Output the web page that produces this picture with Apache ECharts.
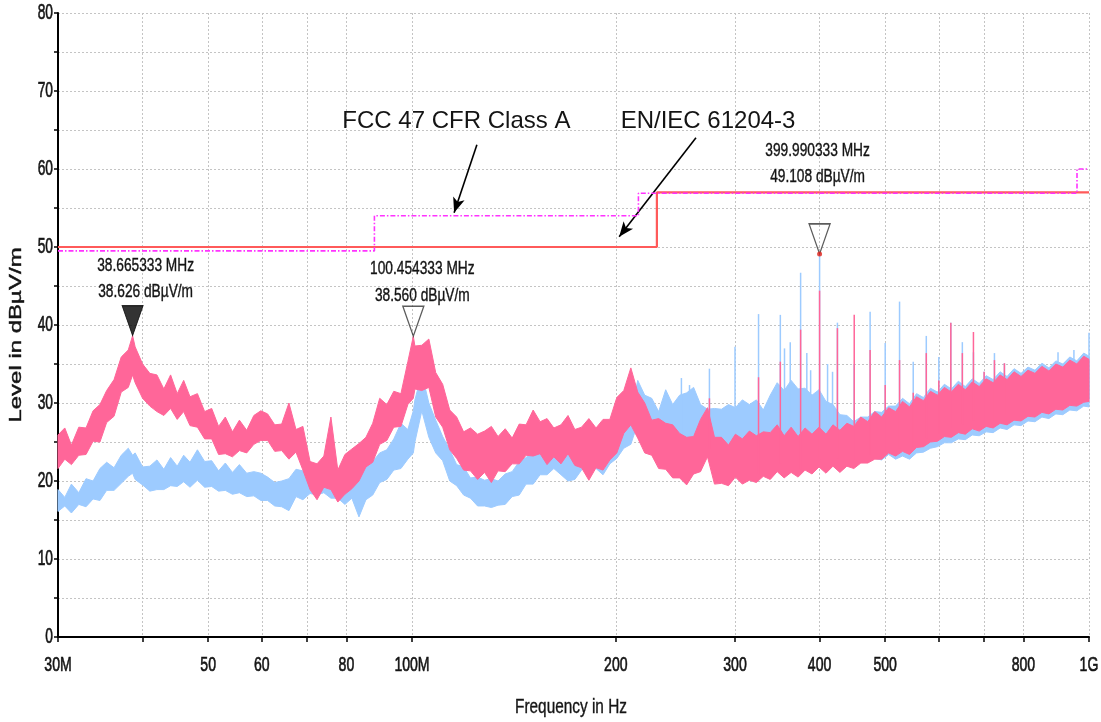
<!DOCTYPE html>
<html>
<head>
<meta charset="utf-8">
<title>Radiated emission scan 30 MHz - 1 GHz</title>
<script src="https://cdn.jsdelivr.net/npm/echarts@6/dist/echarts.min.js"></script>
<style>
  html, body { margin: 0; padding: 0; background: #ffffff; }
  #chart { width: 1101px; height: 722px; }
</style>
</head>
<body>
<div id="chart"></div>
<script>
// Scan frequencies (MHz) shared by both measured traces
const freqMHz = [
  30, 30.7, 31.4, 32.2, 33, 33.8, 34.6, 35.4, 36.3, 37.2, 38.1, 38.665333, 39, 40, 41, 42, 43, 44, 45, 46,
  47, 48.2, 49.4, 50.6, 51.8, 53, 54.3, 55.6, 57, 58.4, 59.8, 61.2, 62.7, 64.2, 65.8, 67.4, 69, 70.7, 72.4, 74.1,
  75.9, 77.7, 79.6, 81.5, 83.5, 85.5, 87.5, 89.6, 91.8, 94, 96.3, 98.6, 100.454333, 101, 103.4, 105.9, 108.4, 111, 113.7, 116.4,
  119.2, 122, 125, 128, 131, 134, 137.3, 140.6, 144, 147.4, 151, 154.6, 158.3, 162, 166, 170, 174, 178, 182.5, 187,
  191.5, 196, 200.7, 205.5, 210.5, 215.5, 220.7, 226, 231.4, 237, 242.7, 248.5, 254.5, 260.6, 266.8, 273.2, 279.8, 286.5, 293.4, 300.4,
  307.6, 315, 322.6, 330.3, 338.2, 346.3, 354.6, 363.1, 371.8, 380.7, 389.8, 399.2, 408.8, 418.6, 428.6, 438.9, 449.4, 460.2, 471.2, 482.5,
  494, 505.9, 518, 530.4, 543.1, 556.2, 569.5, 583.2, 597.2, 611.5, 626.2, 641.2, 656.6, 672.3, 688.4, 704.9, 721.8, 739.1, 756.8, 775,
  793.6, 812.6, 832.1, 852.1, 872.5, 893.4, 914.8, 936.8, 959.3, 982.3, 1000
];

// Peak trace (pink): upper and lower edge of the noise band, dBµV/m
const pinkHi = [
  25.9, 26.8, 24.6, 26.9, 26.8, 29.0, 29.8, 31.6, 33.0, 35.9, 36.8, 38.626, 37.2, 35.0, 33.8, 33.6, 31.8, 33.6, 31.2, 32.9,
  30.8, 31.2, 28.9, 29.3, 27.0, 28.2, 26.3, 27.8, 26.5, 28.4, 29.0, 28.6, 27.2, 27.3, 30.0, 26.6, 27.0, 22.5, 22.2, 23.2,
  28.2, 21.4, 23.4, 24.1, 24.8, 25.6, 27.4, 30.6, 29.8, 31.5, 31.2, 35.3, 38.56, 37.3, 37.4, 38.2, 33.9, 32.4, 29.1, 28.2,
  26.3, 26.8, 26.0, 26.4, 27.0, 25.7, 26.7, 25.5, 27.3, 27.2, 29.1, 27.6, 28.0, 26.8, 27.2, 28.4, 26.6, 26.9, 28.0, 26.8,
  27.9, 27.9, 30.7, 31.6, 34.5, 31.4, 30.0, 27.8, 28.0, 27.4, 27.2, 26.1, 25.6, 25.7, 27.9, 29.4, 25.6, 25.6, 24.6, 26.0,
  25.4, 26.4, 25.8, 26.3, 26.2, 27.2, 25.8, 26.9, 25.7, 26.8, 26.0, 26.9, 26.0, 27.2, 26.5, 27.4, 27.0, 28.2, 27.6, 28.9,
  28.2, 29.4, 28.9, 30.2, 29.5, 30.8, 30.3, 31.5, 31.0, 32.0, 31.4, 32.4, 31.7, 32.7, 32.1, 33.1, 32.6, 33.6, 33.0, 34.0,
  33.4, 34.2, 33.8, 34.7, 34.1, 35.0, 34.6, 35.5, 35.0, 36.0, 35.6
];
const pinkLo = [
  21.6, 22.8, 22.1, 23.3, 23.4, 25.1, 25.0, 27.5, 28.3, 31.4, 32.0, 33.6, 32.6, 30.6, 29.6, 28.9, 28.4, 29.3, 27.9, 28.9,
  27.1, 26.9, 25.4, 25.4, 23.4, 23.5, 23.1, 23.9, 23.6, 24.7, 25.2, 25.2, 23.8, 23.9, 22.8, 23.7, 21.4, 18.9, 17.6, 19.2,
  18.9, 17.3, 18.3, 19.0, 20.0, 21.8, 22.4, 24.7, 25.2, 26.9, 27.0, 29.8, 30.6, 31.8, 31.6, 32.0, 28.2, 26.9, 24.0, 22.9,
  21.4, 21.3, 20.2, 21.1, 19.8, 21.3, 21.2, 22.2, 22.2, 23.3, 23.2, 23.5, 22.1, 23.1, 22.2, 23.5, 22.0, 21.7, 20.1, 21.7,
  21.4, 22.7, 23.6, 26.1, 27.2, 25.5, 23.6, 23.3, 21.6, 21.5, 20.4, 20.4, 19.5, 20.9, 21.2, 23.1, 19.6, 19.7, 19.4, 20.5,
  19.6, 20.1, 19.8, 20.6, 20.2, 21.2, 20.4, 21.1, 20.5, 21.4, 20.9, 21.8, 21.0, 21.9, 21.1, 21.9, 21.6, 22.3, 22.3, 22.8,
  22.8, 23.6, 23.2, 23.8, 23.4, 24.3, 24.4, 25.0, 25.1, 25.7, 25.6, 26.2, 26.0, 26.7, 26.4, 27.0, 26.8, 27.4, 27.2, 27.8,
  27.7, 28.3, 28.2, 28.8, 28.6, 29.2, 29.1, 29.7, 29.6, 30.1, 30.2
];

// Average trace (blue): upper and lower edge of the noise band, dBµV/m
const blueHi = [
  18.9, 17.9, 19.6, 18.5, 20.3, 20.0, 21.6, 22.4, 21.7, 23.3, 24.2, 23.3, 23.6, 21.8, 21.9, 22.7, 21.5, 23.0, 21.9, 23.3,
  22.4, 24.0, 22.5, 22.6, 21.3, 22.3, 21.1, 22.1, 21.0, 21.2, 21.0, 20.5, 19.8, 20.0, 20.3, 21.5, 21.3, 21.3, 21.5, 22.0,
  20.8, 21.3, 21.1, 20.9, 20.7, 21.8, 22.5, 23.6, 24.0, 25.4, 27.4, 26.6, 29.0, 30.4, 33.8, 30.0, 27.8, 25.7, 24.0, 22.1,
  21.8, 20.4, 20.5, 20.1, 20.3, 20.0, 20.9, 21.2, 22.5, 23.0, 23.9, 23.8, 24.5, 24.2, 24.3, 23.4, 24.3, 24.4, 26.1, 25.3,
  25.9, 25.8, 27.6, 27.6, 28.7, 32.9, 31.0, 30.6, 28.9, 31.7, 29.8, 31.0, 31.3, 32.0, 29.8, 29.2, 29.3, 29.2, 29.8, 29.4,
  30.4, 29.8, 30.4, 29.1, 31.0, 32.6, 31.6, 32.9, 31.8, 31.9, 31.0, 31.7, 30.2, 29.8, 28.5, 28.4, 27.6, 28.2, 28.2, 28.9,
  28.8, 29.6, 29.6, 30.6, 29.9, 31.2, 30.7, 31.9, 31.4, 32.4, 31.8, 32.8, 32.1, 33.1, 32.5, 33.5, 33.0, 34.0, 33.4, 34.4,
  33.8, 34.6, 34.2, 35.1, 34.5, 35.4, 35.0, 35.9, 35.4, 36.4, 36.0
];
const blueLo = [
  16.1, 16.8, 15.9, 17.0, 16.7, 17.7, 17.5, 18.8, 18.8, 19.7, 20.6, 21.0, 20.2, 19.5, 18.7, 18.9, 18.9, 19.4, 19.3, 19.9,
  19.2, 20.1, 19.2, 19.3, 18.7, 18.8, 18.3, 18.5, 18.0, 18.1, 17.5, 17.5, 16.8, 16.7, 16.2, 18.0, 17.6, 18.4, 18.2, 18.5,
  17.8, 17.8, 17.0, 17.8, 15.4, 17.6, 18.2, 19.8, 20.2, 21.4, 21.6, 22.8, 23.6, 25.0, 29.0, 25.6, 23.6, 22.6, 20.0, 19.4,
  18.2, 17.8, 16.8, 16.8, 16.6, 16.9, 17.0, 18.0, 18.2, 19.6, 19.6, 20.8, 20.8, 21.6, 20.8, 20.0, 20.2, 21.4, 22.1, 21.6,
  20.8, 22.2, 22.9, 24.2, 24.7, 27.4, 26.2, 25.8, 24.2, 25.5, 24.8, 25.1, 24.2, 24.8, 24.7, 24.4, 24.2, 24.8, 24.7, 24.6,
  25.1, 25.2, 24.4, 25.1, 24.8, 25.1, 24.8, 25.5, 25.0, 26.3, 25.4, 26.3, 25.6, 25.6, 25.1, 24.8, 23.8, 23.6, 22.8, 22.9,
  22.7, 23.4, 22.8, 23.2, 22.8, 23.6, 23.7, 24.2, 24.4, 24.9, 24.9, 25.4, 25.3, 25.9, 25.8, 26.3, 26.2, 26.8, 26.6, 27.2,
  27.1, 27.7, 27.6, 28.2, 28.0, 28.6, 28.5, 29.1, 29.0, 29.6, 29.5
];

// Narrow-band emissions (spikes) above the noise floor
const blueSpikeFreq  = [250, 257, 275, 300, 325, 350, 355, 362, 375, 383, 388, 399.990333, 411, 418, 425, 450, 475, 500, 525, 550, 575, 600, 625, 650, 675, 700, 725, 750, 900, 950, 1000];
const blueSpikeLevel = [33.2, 32.3, 34.4, 37.2, 41.4, 41.3, 37.0, 37.8, 46.7, 36.4, 34.2, 49.108, 35.0, 34.0, 40.3, 35.0, 41.7, 37.7, 43.0, 35.3, 38.6, 35.9, 40.3, 37.8, 36.5, 34.0, 36.4, 35.1, 36.5, 36.8, 39.0];
const pinkSpikeFreq  = [275, 325, 350, 375, 399.990333, 425, 450, 475, 500, 525, 550, 575, 600, 625, 650, 675, 700, 725, 750];
const pinkSpikeLevel = [30.6, 33.3, 35.3, 39.4, 44.4, 39.6, 41.3, 36.8, 32.3, 35.5, 31.3, 36.4, 32.9, 40.3, 36.4, 39.1, 34.0, 35.5, 35.1];

// Limit lines
const enFreq   = [30, 230, 230, 1000];
const enLevel  = [50, 50, 57, 57];
const fccFreq  = [30, 88, 88, 216, 216, 960, 960, 1000];
const fccLevel = [49.5, 49.5, 54, 54, 56.9, 56.9, 60, 60];

// Markers
const markerFreq  = [38.665333, 100.454333, 399.990333];
const markerLevel = [38.626, 38.560, 49.108];

// Callouts naming the two limit lines
const noteText  = ['FCC 47 CFR Class A', 'EN/IEC 61204-3'];
const noteFreq  = [116.3, 273.7];
const noteLevel = [66.15, 66.15];
const arrowFrom = [[124.7, 63.1], [262.7, 64.0]];
const arrowTo   = [[115.4, 54.4], [202.3, 51.3]];

// Axis ticks and labels
const xTickValues  = [30, 40, 50, 60, 70, 80, 100, 200, 300, 400, 500, 600, 700, 800, 1000];
const xLabelValues = [30, 50, 60, 80, 100, 200, 300, 400, 500, 800, 1000];
const xLabelTexts  = ['30M', '50', '60', '80', '100M', '200', '300', '400', '500', '800', '1G'];
const yLabelValues = [0, 10, 20, 30, 40, 50, 60, 70, 80];

const SANS = "'Liberation Sans', Arial, sans-serif";
const PINK = '#ff6699';
const BLUE = '#9dcbff';
const INK = '#141414';
// label placement relative to each marker tip (px)
const markerLabelShift = [[13, -57], [9, -54], [-2, -90]];

function bandSeries(name, lo, hi, color) {
  return {
    type: 'custom',
    name: name,
    silent: true,
    coordinateSystem: 'cartesian2d',
    encode: { x: 0, y: [1, 2] },
    data: freqMHz.map((f, i) => [f, lo[i], hi[i]]),
    renderItem: function (params, api) {
      if (params.dataIndex !== 0) return null;
      const pts = [];
      for (let i = 0; i < freqMHz.length; i++) pts.push(api.coord([freqMHz[i], hi[i]]));
      for (let i = freqMHz.length - 1; i >= 0; i--) pts.push(api.coord([freqMHz[i], lo[i]]));
      return {
        type: 'polygon',
        shape: { points: pts },
        style: { fill: color, stroke: color, lineWidth: 1, lineJoin: 'miter' }
      };
    }
  };
}

function footLevel(f, lo) {
  let idx = 0;
  for (let i = 0; i < freqMHz.length; i++) if (freqMHz[i] <= f) idx = i;
  return lo[idx] + 1;
}

function spikeSeries(name, freqs, levels, lo, color) {
  return {
    type: 'custom',
    name: name,
    silent: true,
    coordinateSystem: 'cartesian2d',
    encode: { x: 0, y: [1, 2] },
    data: freqs.map((f, i) => [f, levels[i], footLevel(f, lo)]),
    renderItem: function (params, api) {
      const p1 = api.coord([api.value(0), api.value(2)]);
      const p2 = api.coord([api.value(0), api.value(1)]);
      return {
        type: 'line',
        shape: { x1: p1[0], y1: p1[1], x2: p2[0], y2: p2[1] },
        style: { stroke: color, lineWidth: 1.5 }
      };
    }
  };
}

// Text placed at data positions (tick labels, marker read-outs, callouts)
function textSeries(name, points, build) {
  return {
    type: 'custom',
    name: name,
    silent: true,
    z: 12,
    coordinateSystem: 'cartesian2d',
    encode: { x: 0, y: 1 },
    data: points,
    renderItem: function (params, api) {
      const p = api.coord([api.value(0), api.value(1)]);
      return build(params.dataIndex, p);
    }
  };
}

const chart = echarts.init(document.getElementById('chart'), null, { renderer: 'canvas' });

chart.setOption({
  animation: false,
  backgroundColor: '#ffffff',
  grid: { left: 58, right: 12, top: 13, bottom: 85, containLabel: false, outerBoundsMode: 'none' },
  xAxis: {
    type: 'log',
    logBase: 10,
    min: 30,
    max: 1000,
    axisLine: { show: true, lineStyle: { color: '#000', width: 2 } },
    axisTick: { show: true, customValues: xTickValues, length: 5, lineStyle: { color: '#000', width: 1.5 } },
    axisLabel: { show: false, customValues: xLabelValues },
    splitLine: { show: true, lineStyle: { color: '#c4c4c4', width: 1, type: [2, 2] } },
    minorTick: { show: false },
    minorSplitLine: { show: false }
  },
  yAxis: {
    type: 'value',
    min: 0,
    max: 80,
    interval: 5,
    axisLine: { show: true, lineStyle: { color: '#000', width: 2 } },
    axisTick: { show: true, length: 4, lineStyle: { color: '#000', width: 1.5 } },
    axisLabel: { show: false },
    splitLine: { show: true, lineStyle: { color: '#c4c4c4', width: 1, type: [2, 2] } }
  },
  graphic: [
    {
      type: 'text',
      x: 17, y: 335,
      rotation: Math.PI / 2,
      scaleX: 1.5,
      silent: true,
      style: { text: 'Level in dBµV/m', font: "16px " + SANS, fill: INK, stroke: INK, lineWidth: 0.4, align: 'center', verticalAlign: 'middle' }
    },
    {
      type: 'text',
      x: 571, y: 707,
      scaleX: 0.96, scaleY: 1.3,
      silent: true,
      style: { text: 'Frequency in Hz', font: "16px " + SANS, fill: INK, stroke: INK, lineWidth: 0.3, align: 'center', verticalAlign: 'middle' }
    }
  ],
  series: [
    bandSeries('Average', blueLo, blueHi, BLUE),
    spikeSeries('Average spikes', blueSpikeFreq, blueSpikeLevel, blueLo, BLUE),
    bandSeries('Peak', pinkLo, pinkHi, PINK),
    spikeSeries('Peak spikes', pinkSpikeFreq, pinkSpikeLevel, pinkLo, PINK),
    {
      type: 'line',
      name: 'EN/IEC 61204-3',
      silent: true,
      showSymbol: false,
      data: enFreq.map((f, i) => [f, enLevel[i]]),
      lineStyle: { color: '#ff5a5a', width: 2.2 },
      z: 5
    },
    {
      type: 'line',
      name: 'FCC 47 CFR Class A',
      silent: true,
      showSymbol: false,
      data: fccFreq.map((f, i) => [f, fccLevel[i]]),
      lineStyle: { color: '#ff33ff', width: 1.6, type: [5, 2, 1.5, 2] },
      z: 6
    },
    {
      type: 'scatter',
      name: 'Markers',
      silent: true,
      symbol: 'path://M0,0L20,0L10,30Z',
      symbolKeepAspect: false,
      symbolSize: [21, 30],
      symbolOffset: [0, -15],
      z: 8,
      data: markerFreq.map((f, i) => ({
        value: [f, markerLevel[i]],
        itemStyle: i === 0
          ? { color: '#000', borderColor: '#000', borderWidth: 1 }
          : { color: 'rgba(255,255,255,0)', borderColor: '#333', borderWidth: 1.4 }
      }))
    },
    {
      type: 'scatter',
      name: 'Peak point',
      silent: true,
      symbol: 'circle',
      symbolSize: 5,
      z: 9,
      itemStyle: { color: '#e0201a' },
      data: [[markerFreq[2], markerLevel[2]]]
    },
    textSeries('Marker read-out', markerFreq.map((f, i) => [f, markerLevel[i]]), (i, p) => ({
      type: 'text',
      x: p[0] + markerLabelShift[i][0],
      y: p[1] + markerLabelShift[i][1],
      scaleX: 0.98, scaleY: 1.33,
      style: {
        text: markerFreq[i].toFixed(6) + ' MHz\n' + markerLevel[i].toFixed(3) + ' dBµV/m',
        font: "14px " + SANS, lineHeight: 20, fill: INK, stroke: INK, lineWidth: 0.3,
        align: 'center', verticalAlign: 'middle'
      }
    })),
    textSeries('Frequency labels', xLabelValues.map(v => [v, 0]), (i, p) => ({
      type: 'text',
      x: p[0], y: p[1] + 28,
      scaleX: 0.88, scaleY: 1.32,
      style: { text: xLabelTexts[i], font: "16px " + SANS, fill: INK, stroke: INK, lineWidth: 0.5, align: 'center', verticalAlign: 'middle' }
    })),
    textSeries('Level labels', yLabelValues.map(v => [30, v]), (i, p) => ({
      type: 'text',
      x: p[0] - 5, y: p[1],
      scaleX: 0.86, scaleY: 1.34,
      style: { text: String(yLabelValues[i]), font: "16px " + SANS, fill: INK, stroke: INK, lineWidth: 0.5, align: 'right', verticalAlign: 'middle' }
    })),
    Object.assign(
      textSeries('Limit names', noteFreq.map((f, i) => [f, noteLevel[i]]), (i, p) => ({
        type: 'text',
        x: p[0], y: p[1],
        style: { text: noteText[i], font: "24px " + SANS, fill: INK, align: 'center', verticalAlign: 'middle' }
      })),
      {
        markLine: {
          silent: true,
          animation: false,
          symbol: ['none', 'arrow'],
          symbolSize: [9, 15],
          lineStyle: { color: '#000', width: 1.6, type: 'solid' },
          label: { show: false },
          emphasis: { disabled: true },
          data: arrowFrom.map((a, i) => [{ coord: a }, { coord: arrowTo[i] }])
        }
      }
    )
  ]
});
</script>
</body>
</html>
